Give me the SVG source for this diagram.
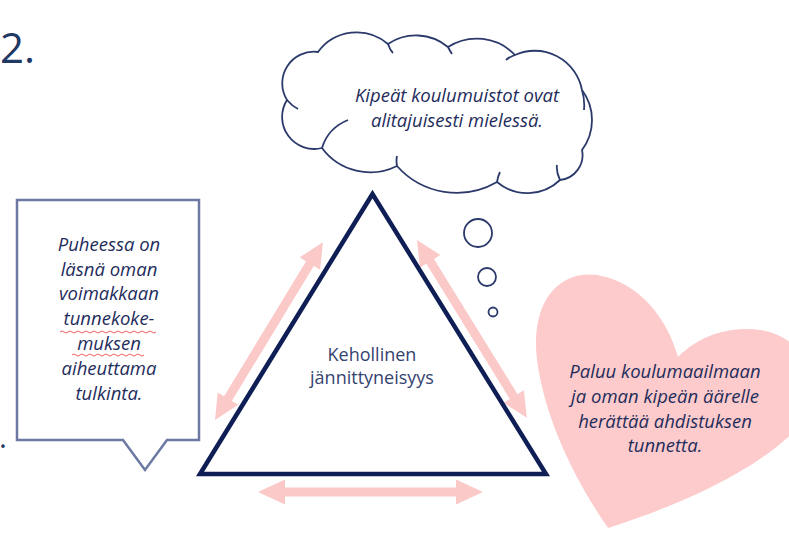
<svg xmlns="http://www.w3.org/2000/svg" width="789" height="533" viewBox="0 0 789 533">
<defs>
<style>
.it{font-family:"Open Sans","Liberation Sans",sans-serif;font-style:italic;font-weight:500;font-size:18.5px;fill:#1f2d5c;text-anchor:middle}
.rg{font-family:"Open Sans","Liberation Sans",sans-serif;font-size:18px;fill:#34436f;text-anchor:middle}
.arrow{fill:#fcc9c9}
.bub{fill:#fff;stroke:#2b3a6b;stroke-width:1.8}
.sq{fill:none;stroke:#f06060;stroke-width:1}
</style>
</defs>
<rect width="789" height="533" fill="#fff"/>
<text x="0" y="63" font-family="Open Sans, Liberation Sans, sans-serif" font-size="42" fill="#1f3864">2.</text>
<text x="-1" y="448" font-family="Open Sans, Liberation Sans, sans-serif" font-size="30" fill="#1f3864">.</text>

<g id="heart">
<path d="M608 528 C575 480 545 420 537 360 C530 300 560 270 597 275 C640 282 668 320 678 357 C700 335 730 326 760 330 C810 338 830 390 800 425 C760 470 680 505 608 528 Z" fill="#fdcbcb"/>
<text class="it"><tspan x="665" y="378">Paluu koulumaailmaan</tspan><tspan x="665" y="403">ja oman kipeän äärelle</tspan><tspan x="665" y="428">herättää ahdistuksen</tspan><tspan x="665" y="452">tunnetta.</tspan></text>
</g>

<g id="cloud">
<path class="bub" d="M287 100 A31.6 31.6 0 0 1 318 52 A48 48 0 0 1 388 44 A50 50 0 0 1 448 47 A53 53 0 0 1 515 55 A48 48 0 0 1 582 90 A50 50 0 0 1 582 150 A25 25 0 0 1 560 180 A47 47 0 0 1 497 182 A80 80 0 0 1 397 166 A60 60 0 0 1 322 148 A32 32 0 0 1 287 100 Z"/>
<path fill="none" stroke="#2b3a6b" stroke-width="1.8" d="M287 100 Q292 106 298 109 M322 148 Q328 128 348 120 M388 44 Q390 50 393 53 M448 47 Q450 51 452 54 M515 55 Q509 57 506 60 M582 90 Q585 100 584 110 M560 180 Q556 172 557 165 M497 182 Q498 176 500 172 M397 166 Q396 160 397 156"/>
<text class="it"><tspan x="457" y="102">Kipeät koulumuistot ovat</tspan><tspan x="457" y="127">alitajuisesti mielessä.</tspan></text>
</g>

<g id="thought-bubbles">
<circle class="bub" cx="478" cy="233" r="14"/>
<circle class="bub" cx="487" cy="277" r="9"/>
<circle class="bub" cx="493" cy="312" r="4.5"/>
</g>

<g id="speech-box">
<path d="M17 200 H199 V440 H167 L145 470 L123 440 H17 Z" fill="#fff" stroke="#6b79a3" stroke-width="2.5"/>
<text class="it"><tspan x="109" y="251">Puheessa on</tspan><tspan x="109" y="276">läsnä oman</tspan><tspan x="109" y="300">voimakkaan</tspan><tspan x="109" y="325">tunnekoke-</tspan><tspan x="109" y="350">muksen</tspan><tspan x="109" y="375">aiheuttama</tspan><tspan x="109" y="400">tulkinta.</tspan></text>
<path class="sq" d="M60 332 q2 -2 4 0 t4 0 t4 0 t4 0 t4 0 t4 0 t4 0 t4 0 t4 0 t4 0 t4 0 t4 0 t4 0 t4 0 t4 0 t4 0 t4 0 t4 0 t4 0 t4 0 t4 0 t4 0 t4 0 t4 0"/>
<path class="sq" d="M72 355 q2 -2 4 0 t4 0 t4 0 t4 0 t4 0 t4 0 t4 0 t4 0 t4 0 t4 0 t4 0 t4 0 t4 0 t4 0 t4 0 t4 0 t4 0 t4 0"/>
</g>

<g id="connectors">
<polygon class="arrow" transform="translate(215 420) rotate(-58.75)" points="0,0 25,-12 25,-4.5 183,-4.5 183,-12 208,0 183,12 183,4.5 25,4.5 25,12"/>
<polygon class="arrow" transform="translate(417 240) rotate(58.3)" points="0,0 25,-12 25,-4.5 184,-4.5 184,-12 209,0 184,12 184,4.5 25,4.5 25,12"/>
<polygon class="arrow" transform="translate(258 492)" points="0,0 27,-12.5 27,-4.5 198,-4.5 198,-12.5 225,0 198,12.5 198,4.5 27,4.5 27,12.5"/>
</g>

<g id="triangle">
<polygon points="372.5,194 200,474 546,474" fill="#fff" stroke="#0f1f55" stroke-width="4.5" stroke-linejoin="miter"/>
<text class="rg"><tspan x="372" y="361">Kehollinen</tspan><tspan x="372" y="384">jännittyneisyys</tspan></text>
</g>
</svg>
